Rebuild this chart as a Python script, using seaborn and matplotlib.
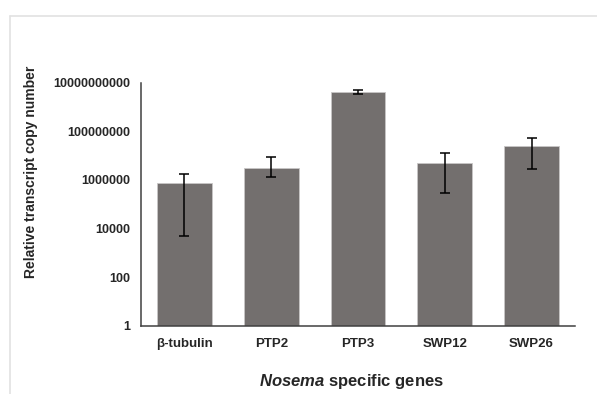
import matplotlib
matplotlib.use("Agg")
import matplotlib.pyplot as plt
from matplotlib.lines import Line2D
from matplotlib.ticker import FixedLocator
import seaborn as sns
import numpy as np
import pandas as pd

genes = ["β-tubulin", "PTP2", "PTP3", "SWP12", "SWP26"]
copy_number = [7.6e5, 3.2e6, 4.0e9, 5.1e6, 2.6e7]
err_upper = [1.7e6, 8.9e6, 5.0e9, 1.3e7, 5.2e7]
err_lower = [5.0e3, 1.3e6, 3.6e9, 2.9e5, 2.8e6]
ytick_values = [1, 100, 10000, 1000000, 100000000, 10000000000]
ytick_labels = ["1", "100", "10000", "1000000", "100000000", "10000000000"]

sns.set_style("white")
plt.rcParams["font.family"] = ["Liberation Sans", "DejaVu Sans"]
plt.rcParams["mathtext.fontset"] = "custom"
plt.rcParams["mathtext.it"] = "Liberation Sans:italic:bold"
plt.rcParams["mathtext.rm"] = "Liberation Sans:bold"

df = pd.DataFrame({"gene": genes, "value": copy_number})

fig = plt.figure(figsize=(5.97, 3.94), dpi=100)
ax = fig.add_axes([0.2362, 0.1734, 0.7269, 0.6166])

sns.barplot(data=df, x="gene", y="value", color="#736f6e", saturation=1,
            width=0.63, edgecolor="#c8c6c6", linewidth=0.6, ax=ax)

vals = np.array(copy_number)
yerr = np.array([vals - np.array(err_lower), np.array(err_upper) - vals])
ax.errorbar(np.arange(len(genes)), vals, yerr=yerr, fmt="none",
            ecolor="black", elinewidth=1.1, capsize=3.3, capthick=1.1)

ax.set_yscale("log")
ax.set_ylim(1, 1e10)
ax.set_xlim(-0.5, len(genes) - 0.5)
ax.yaxis.set_major_locator(FixedLocator(ytick_values))
ax.set_yticklabels(ytick_labels)
ax.yaxis.set_minor_locator(FixedLocator([]))

ax.set_xticks(np.arange(len(genes)))
ax.set_xticklabels(genes)
ax.set_xticks(np.arange(-0.5, len(genes)), minor=True)
ax.tick_params(axis="x", which="major", length=0, pad=9, labelsize=9.5)
ax.tick_params(axis="x", which="minor", length=4, width=1, color="#404040", direction="out")
ax.tick_params(axis="y", which="major", length=4, width=1, color="#404040", direction="out",
               labelsize=9, pad=4)
for lab in ax.get_xticklabels() + ax.get_yticklabels():
    lab.set_fontweight("bold")

for s in ["top", "right"]:
    ax.spines[s].set_visible(False)
for s in ["left", "bottom"]:
    ax.spines[s].set_color("#404040")
    ax.spines[s].set_linewidth(1.1)

ax.set_ylabel("Relative transcript copy number", fontsize=10, fontweight="bold")
ax.yaxis.set_label_coords(-0.238, 0.632)
ax.set_xlabel(r"$\mathit{Nosema}$ specific genes", fontsize=12, fontweight="bold")
ax.xaxis.set_label_coords(0.486, -0.19)

# faint page border
fig.add_artist(Line2D([10/597, 1], [1 - 16/394, 1 - 16/394], color="#e2e2e2", lw=1.2, transform=fig.transFigure))
fig.add_artist(Line2D([10/597, 10/597], [0, 1 - 16/394], color="#e2e2e2", lw=1.2, transform=fig.transFigure))

fig.savefig("out.png", dpi=100)
